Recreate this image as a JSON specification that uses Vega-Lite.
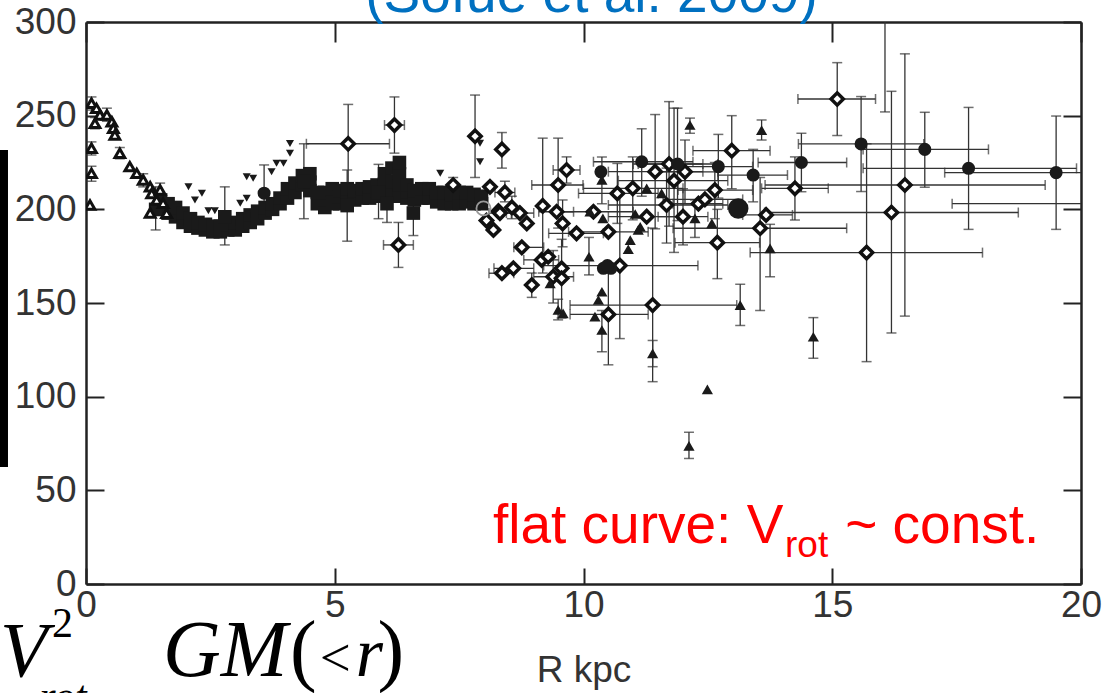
{
"$schema": "https://vega.github.io/schema/vega-lite/v6.json",
"width": 995, "height": 562,
"autosize": {"type": "none"},
"padding": {"left": 86, "top": 22, "right": 23, "bottom": 109},
"background": "white",
"config": {"view": {"stroke": null},
  "axis": {"grid": false, "domainColor": "#222", "domainWidth": 2.5, "tickColor": "#222", "tickWidth": 2,
    "labelFont": "Liberation Sans", "labelFontSize": 37, "labelColor": "#333", "labelFlush": false, "labelOverlap": false,
    "titleFont": "Liberation Sans", "titleFontSize": 37, "titleColor": "#333", "titleFontWeight": "normal"}},
"data": {"values": [
{"R":1.5,"V":200,"t":"sq"},{"R":1.5,"V":205,"t":"sq"},
{"R":1.65,"V":198,"t":"sq"},{"R":1.65,"V":203,"t":"sq"},
{"R":1.8,"V":196,"t":"sq"},{"R":1.8,"V":201,"t":"sq"},
{"R":1.95,"V":193,"t":"sq"},{"R":1.95,"V":198,"t":"sq"},
{"R":2.1,"V":191,"t":"sq"},{"R":2.1,"V":195,"t":"sq"},
{"R":2.25,"V":190,"t":"sq"},{"R":2.25,"V":193,"t":"sq"},
{"R":2.4,"V":189,"t":"sq"},{"R":2.4,"V":192,"t":"sq"},
{"R":2.55,"V":188,"t":"sq"},{"R":2.55,"V":191,"t":"sq"},
{"R":2.7,"V":188,"t":"sq"},{"R":2.7,"V":191,"t":"sq"},
{"R":2.85,"V":189,"t":"sq"},{"R":2.85,"V":192,"t":"sq"},
{"R":3.0,"V":189,"t":"sq"},{"R":3.0,"V":193,"t":"sq"},
{"R":3.15,"V":191,"t":"sq"},{"R":3.15,"V":195,"t":"sq"},
{"R":3.3,"V":193,"t":"sq"},{"R":3.3,"V":197,"t":"sq"},
{"R":3.45,"V":195,"t":"sq"},{"R":3.45,"V":199,"t":"sq"},
{"R":3.6,"V":198,"t":"sq"},{"R":3.6,"V":201,"t":"sq"},
{"R":3.75,"V":200,"t":"sq"},{"R":3.75,"V":203,"t":"sq"},
{"R":3.9,"V":203,"t":"sq"},{"R":3.9,"V":206,"t":"sq"},
{"R":4.05,"V":206,"t":"sq"},{"R":4.05,"V":211,"t":"sq"},
{"R":4.2,"V":209,"t":"sq"},{"R":4.2,"V":214,"t":"sq"},
{"R":4.35,"V":213,"t":"sq"},{"R":4.35,"V":218,"t":"sq"},
{"R":4.5,"V":210,"t":"sq"},{"R":4.5,"V":214.5,"t":"sq"},{"R":4.5,"V":219,"t":"sq"},
{"R":4.65,"V":203,"t":"sq"},{"R":4.65,"V":209,"t":"sq"},
{"R":4.8,"V":201,"t":"sq"},{"R":4.8,"V":205,"t":"sq"},{"R":4.8,"V":209,"t":"sq"},
{"R":4.95,"V":203,"t":"sq"},{"R":4.95,"V":207,"t":"sq"},{"R":4.95,"V":211,"t":"sq"},
{"R":5.1,"V":203,"t":"sq"},{"R":5.1,"V":206.5,"t":"sq"},{"R":5.1,"V":210,"t":"sq"},
{"R":5.25,"V":204,"t":"sq"},{"R":5.25,"V":207.5,"t":"sq"},{"R":5.25,"V":211,"t":"sq"},
{"R":5.4,"V":205,"t":"sq"},{"R":5.4,"V":210,"t":"sq"},
{"R":5.55,"V":206,"t":"sq"},{"R":5.55,"V":211,"t":"sq"},
{"R":5.7,"V":206,"t":"sq"},{"R":5.7,"V":212,"t":"sq"},
{"R":5.85,"V":207,"t":"sq"},{"R":5.85,"V":210,"t":"sq"},{"R":5.85,"V":213,"t":"sq"},
{"R":6.0,"V":208,"t":"sq"},{"R":6.0,"V":213.5,"t":"sq"},{"R":6.0,"V":219,"t":"sq"},
{"R":6.15,"V":209,"t":"sq"},{"R":6.15,"V":215,"t":"sq"},{"R":6.15,"V":222,"t":"sq"},
{"R":6.3,"V":207,"t":"sq"},{"R":6.3,"V":213,"t":"sq"},{"R":6.3,"V":219,"t":"sq"},{"R":6.3,"V":225,"t":"sq"},
{"R":6.45,"V":206,"t":"sq"},{"R":6.45,"V":209.5,"t":"sq"},{"R":6.45,"V":213,"t":"sq"},
{"R":6.6,"V":205,"t":"sq"},{"R":6.6,"V":210,"t":"sq"},
{"R":6.75,"V":206,"t":"sq"},{"R":6.75,"V":211,"t":"sq"},
{"R":6.9,"V":206,"t":"sq"},{"R":6.9,"V":211,"t":"sq"},
{"R":7.05,"V":204,"t":"sq"},{"R":7.05,"V":209,"t":"sq"},
{"R":7.2,"V":203,"t":"sq"},{"R":7.2,"V":209,"t":"sq"},
{"R":7.35,"V":203,"t":"sq"},{"R":7.35,"V":208,"t":"sq"},
{"R":7.5,"V":203,"t":"sq"},{"R":7.5,"V":209,"t":"sq"},
{"R":7.65,"V":204,"t":"sq"},{"R":7.65,"V":209,"t":"sq"},
{"R":7.8,"V":203,"t":"sq"},{"R":7.8,"V":208,"t":"sq"},
{"R":7.95,"V":203,"t":"sq"},{"R":7.95,"V":207,"t":"sq"},
{"R":1.4,"V":200,"t":"sq","Vlo":189,"Vhi":212},
{"R":2.79,"V":196,"t":"sq","Vlo":181,"Vhi":212},
{"R":4.38,"V":215,"t":"sq","Vlo":195,"Vhi":235},
{"R":5.25,"V":202,"t":"sq","Vlo":183,"Vhi":221},
{"R":5.88,"V":209,"t":"sq","Vlo":195,"Vhi":224},
{"R":6.05,"V":203,"t":"sq","Vlo":193,"Vhi":212},
{"R":6.58,"V":198,"t":"sq","Vlo":186,"Vhi":209},
{"R":0.11,"V":256.6,"t":"ot","Vlo":253,"Vhi":260},
{"R":0.21,"V":253.9,"t":"ot"},
{"R":0.18,"V":245.9,"t":"ot","Vlo":243,"Vhi":249},
{"R":0.28,"V":250.4,"t":"ot"},
{"R":0.42,"V":250.4,"t":"ot","Vlo":247,"Vhi":254},
{"R":0.52,"V":246.8,"t":"ot"},
{"R":0.55,"V":243.3,"t":"ot"},
{"R":0.58,"V":239.7,"t":"ot"},
{"R":0.11,"V":232.6,"t":"ot","Vlo":229,"Vhi":236},
{"R":0.11,"V":219.2,"t":"ot","Vlo":215,"Vhi":223},
{"R":0.08,"V":202.3,"t":"ot"},
{"R":0.68,"V":229.9,"t":"ot","Vlo":227,"Vhi":233},
{"R":0.88,"V":222.8,"t":"ot"},
{"R":1.02,"V":219.2,"t":"ot"},
{"R":1.15,"V":215.7,"t":"ot","Vlo":212,"Vhi":219},
{"R":1.29,"V":212.1,"t":"ot"},
{"R":1.32,"V":208.5,"t":"ot"},
{"R":1.49,"V":210.3,"t":"ot","Vlo":206,"Vhi":214},
{"R":1.42,"V":205,"t":"ot"},
{"R":1.29,"V":198,"t":"ot"},
{"R":1.55,"V":203.2,"t":"ot"},
{"R":1.62,"V":197.9,"t":"ot","Vlo":195,"Vhi":201},
{"R":2.06,"V":212,"t":"it"},{"R":2.19,"V":205,"t":"it"},{"R":2.33,"V":208.6,"t":"it"},
{"R":2.46,"V":199.3,"t":"it"},{"R":2.59,"V":199.3,"t":"it"},{"R":3.1,"V":203.2,"t":"it"},
{"R":3.23,"V":205.9,"t":"it"},{"R":3.23,"V":217.4,"t":"it"},{"R":3.36,"V":216.6,"t":"it"},
{"R":3.73,"V":220.1,"t":"it"},{"R":3.83,"V":224.6,"t":"it"},{"R":3.97,"V":224.6,"t":"it"},
{"R":4.1,"V":235.2,"t":"it"},{"R":4.1,"V":229.9,"t":"it"},{"R":7.12,"V":219.3,"t":"it"},
{"R":7.92,"V":235.3,"t":"it"},{"R":7.92,"V":225.4,"t":"it"},
{"R":5.27,"V":235,"t":"d","Rlo":4.43,"Rhi":6.1,"Vlo":214,"Vhi":256},
{"R":6.2,"V":245,"t":"d","Rlo":6.0,"Rhi":6.4,"Vlo":230,"Vhi":260},
{"R":6.28,"V":181,"t":"d","Rlo":5.98,"Rhi":6.58,"Vlo":169,"Vhi":193},
{"R":7.82,"V":239,"t":"d","Vlo":217,"Vhi":261},
{"R":8.36,"V":232,"t":"d","Vlo":222,"Vhi":241},
{"R":7.38,"V":213,"t":"d","Vlo":209,"Vhi":217},
{"R":8.42,"V":209,"t":"d","Rlo":8.22,"Rhi":8.62,"Vlo":204,"Vhi":215},
{"R":8.12,"V":212,"t":"d"},
{"R":8.29,"V":199,"t":"d"},
{"R":8.05,"V":194,"t":"d"},
{"R":8.19,"V":189,"t":"d"},
{"R":8.32,"V":198,"t":"d","Rlo":8.1,"Rhi":8.55},
{"R":8.56,"V":201,"t":"d","Vlo":195,"Vhi":207},
{"R":8.72,"V":198,"t":"d","Rlo":8.45,"Rhi":9.0},
{"R":8.86,"V":192.5,"t":"d"},
{"R":9.18,"V":201.8,"t":"d","Vlo":166,"Vhi":238},
{"R":9.46,"V":198.7,"t":"d","Rlo":9.1,"Rhi":9.8},
{"R":9.49,"V":213,"t":"d","Rlo":8.96,"Rhi":9.99,"Vlo":190,"Vhi":238},
{"R":9.66,"V":221,"t":"d","Rlo":9.39,"Rhi":9.93,"Vlo":214,"Vhi":228},
{"R":9.58,"V":192.5,"t":"d","Vlo":180,"Vhi":205},
{"R":9.86,"V":187.2,"t":"d","Rlo":9.3,"Rhi":10.4},
{"R":8.76,"V":179.7,"t":"d","Rlo":8.6,"Rhi":9.2},
{"R":8.59,"V":168.5,"t":"d","Rlo":8.2,"Rhi":9.0},
{"R":8.36,"V":165.9,"t":"d","Rlo":8.1,"Rhi":8.6},
{"R":8.96,"V":159.6,"t":"d","Vlo":153,"Vhi":166},
{"R":9.16,"V":173,"t":"d","Rlo":8.8,"Rhi":9.5},
{"R":9.29,"V":174.7,"t":"d"},
{"R":9.39,"V":164,"t":"d","Rlo":9.0,"Rhi":9.8,"Vlo":150,"Vhi":178},
{"R":9.56,"V":168.5,"t":"d"},
{"R":9.56,"V":163.2,"t":"d","Vlo":142,"Vhi":184},
{"R":10.2,"V":198.7,"t":"d","Rlo":9.4,"Rhi":11.0},
{"R":10.5,"V":188,"t":"d","Rlo":9.7,"Rhi":11.3},
{"R":10.73,"V":170,"t":"d","Rlo":9.2,"Rhi":12.3,"Vlo":131,"Vhi":209},
{"R":10.5,"V":143.9,"t":"d","Rlo":9.73,"Rhi":11.3,"Vlo":117,"Vhi":171},
{"R":11.39,"V":148.9,"t":"d","Rlo":9.73,"Rhi":13.08,"Vlo":108,"Vhi":190},
{"R":10.68,"V":208.5,"t":"d","Rlo":9.9,"Rhi":11.5,"Vlo":192.5,"Vhi":224.5},
{"R":10.99,"V":211.2,"t":"d","Rlo":10.0,"Rhi":12.0,"Vlo":194.4,"Vhi":228},
{"R":11.27,"V":196.1,"t":"d","Rlo":10.5,"Rhi":12.0},
{"R":11.44,"V":220.1,"t":"d","Rlo":10.5,"Rhi":12.4,"Vlo":189.6,"Vhi":250.6},
{"R":11.67,"V":202.3,"t":"d","Rlo":10.5,"Rhi":12.9,"Vlo":182,"Vhi":222},
{"R":11.82,"V":215.3,"t":"d","Rlo":10.7,"Rhi":12.9,"Vlo":177,"Vhi":254},
{"R":12.0,"V":196.1,"t":"d","Rlo":11.5,"Rhi":12.5,"Vlo":181,"Vhi":211},
{"R":12.31,"V":203,"t":"d","Rlo":11.8,"Rhi":12.8},
{"R":12.44,"V":205.3,"t":"d","Rlo":11.6,"Rhi":13.2},
{"R":12.64,"V":210.3,"t":"d","Rlo":11.9,"Rhi":13.4,"Vlo":195,"Vhi":225},
{"R":12.69,"V":182.2,"t":"d","Rlo":11.84,"Rhi":13.54,"Vlo":163,"Vhi":200},
{"R":13.55,"V":189.9,"t":"d","Rlo":11.8,"Rhi":15.29,"Vlo":146,"Vhi":217},
{"R":13.67,"V":197,"t":"d","Rlo":13.2,"Rhi":14.2},
{"R":12.98,"V":231.3,"t":"d","Rlo":12.2,"Rhi":13.75,"Vlo":211,"Vhi":250},
{"R":11.72,"V":224.2,"t":"d","Rlo":11.0,"Rhi":12.4,"Vlo":191,"Vhi":257.5},
{"R":12.04,"V":220,"t":"d","Rlo":11.4,"Rhi":12.7,"Vlo":203,"Vhi":237},
{"R":14.25,"V":211.2,"t":"d","Rlo":13.58,"Rhi":14.92,"Vlo":194.3,"Vhi":228},
{"R":15.1,"V":258.9,"t":"d","Rlo":14.31,"Rhi":15.87,"Vlo":239.4,"Vhi":278.3},
{"R":16.46,"V":213,"t":"d","Rlo":13.65,"Rhi":19.28,"Vlo":143,"Vhi":283},
{"R":16.19,"V":198.3,"t":"d","Rlo":13.64,"Rhi":18.74,"Vlo":134,"Vhi":263},
{"R":15.69,"V":176.9,"t":"d","Rlo":13.35,"Rhi":18.02,"Vlo":118.7,"Vhi":235},
{"R":16.06,"V":330,"t":"d","Vlo":252,"Vhi":408},
{"R":20.8,"V":203,"t":"d","Rlo":17.41,"Rhi":24.2},
{"R":3.58,"V":208.6,"t":"c","Vlo":197.9,"Vhi":223.7},
{"R":11.17,"V":225.4,"t":"c","Rlo":10.2,"Rhi":12.2,"Vlo":207,"Vhi":243},
{"R":11.89,"V":224.2,"t":"c","Rlo":11.1,"Rhi":12.7,"Vlo":194,"Vhi":254},
{"R":12.71,"V":222.8,"t":"c","Rlo":12.0,"Rhi":13.4,"Vlo":206,"Vhi":240},
{"R":13.41,"V":218.3,"t":"c","Rlo":12.7,"Rhi":14.1,"Vlo":204,"Vhi":232},
{"R":14.38,"V":225,"t":"c","Rlo":13.51,"Rhi":15.29,"Vlo":209.4,"Vhi":240.6},
{"R":15.58,"V":234.9,"t":"c","Rlo":14.32,"Rhi":16.84,"Vlo":209.5,"Vhi":260.2},
{"R":16.86,"V":232,"t":"c","Rlo":15.62,"Rhi":18.14,"Vlo":211.8,"Vhi":251.8},
{"R":17.74,"V":221.9,"t":"c","Rlo":15.62,"Rhi":19.91,"Vlo":189.3,"Vhi":254.4},
{"R":19.5,"V":219.6,"t":"c","Rlo":17.26,"Rhi":21.8,"Vlo":189.3,"Vhi":249.8},
{"R":10.35,"V":220,"t":"c"},
{"R":10.4,"V":168.5,"t":"c"},{"R":10.55,"V":168.5,"t":"c"},{"R":10.48,"V":170,"t":"c"},
{"R":10.37,"V":215.7,"t":"ft","Vlo":203,"Vhi":228},
{"R":11.27,"V":211.2,"t":"ft"},
{"R":11.57,"V":208.5,"t":"ft"},
{"R":12.14,"V":245,"t":"ft","Vlo":240.6,"Vhi":248.7},
{"R":13.58,"V":242.3,"t":"ft","Vlo":237,"Vhi":247.7},
{"R":11.14,"V":190.7,"t":"ft"},
{"R":12.24,"V":195.2,"t":"ft","Vlo":185,"Vhi":205},
{"R":12.58,"V":192.5,"t":"ft"},
{"R":10.39,"V":195.2,"t":"ft"},
{"R":10.13,"V":198.7,"t":"ft"},
{"R":10.11,"V":174.7,"t":"ft","Vlo":165,"Vhi":185},
{"R":10.9,"V":178.7,"t":"ft"},
{"R":10.94,"V":183.6,"t":"ft"},
{"R":11.1,"V":189,"t":"ft"},
{"R":11.04,"V":197.5,"t":"ft"},
{"R":13.75,"V":179.2,"t":"ft","Vlo":164,"Vhi":192},
{"R":13.15,"V":148.9,"t":"ft","Vlo":138,"Vhi":160},
{"R":10.37,"V":156,"t":"ft"},
{"R":10.3,"V":151.6,"t":"ft"},
{"R":10.23,"V":142.7,"t":"ft"},
{"R":10.37,"V":135.6,"t":"ft","Vlo":124,"Vhi":146},
{"R":9.49,"V":146.3,"t":"ft","Vlo":141,"Vhi":152},
{"R":9.59,"V":144.5,"t":"ft"},
{"R":9.33,"V":160.5,"t":"ft"},
{"R":11.39,"V":123.1,"t":"ft","Vlo":116,"Vhi":130},
{"R":12.49,"V":103.9,"t":"ft"},
{"R":14.62,"V":132,"t":"ft","Vlo":120.5,"Vhi":142.2},
{"R":12.12,"V":73.7,"t":"ft","Vlo":67,"Vhi":81},
{"R":13.11,"V":200.5,"t":"bc"},
{"R":7.99,"V":200.5,"t":"gc"}
]},
"layer": [
{"mark": {"type": "rule", "clip": true, "color": "#333", "strokeWidth": 1.3},
 "transform": [{"filter": "isValid(datum.Rlo)"}],
 "encoding": {
  "x": {"field": "Rlo", "type": "quantitative", "scale": {"domain": [0, 20], "nice": false, "zero": false},
        "axis": {"orient": "top", "values": [0, 5, 10, 15, 20], "labels": false, "title": null, "tickSize": -20}},
  "x2": {"field": "Rhi"},
  "y": {"field": "V", "type": "quantitative", "scale": {"domain": [0, 300], "nice": false},
        "axis": {"orient": "right", "values": [0, 50, 100, 150, 200, 250, 300], "labels": false, "title": null, "tickSize": -18}}}},
{"mark": {"type": "rule", "clip": true, "color": "#333", "strokeWidth": 1.3},
 "transform": [{"filter": "isValid(datum.Vlo)"}],
 "encoding": {
  "x": {"field": "R", "type": "quantitative", "axis": null},
  "y": {"field": "Vlo", "type": "quantitative", "axis": null},
  "y2": {"field": "Vhi"}}},
{"mark": {"type": "tick", "clip": true, "color": "#333", "orient": "horizontal", "size": 10, "thickness": 1.5},
 "transform": [{"fold": ["Vlo", "Vhi"], "as": ["k", "cv"]}, {"filter": "isValid(datum.cv)"}],
 "encoding": {
  "x": {"field": "R", "type": "quantitative", "axis": null},
  "y": {"field": "cv", "type": "quantitative", "axis": null}}},
{"mark": {"type": "tick", "clip": true, "color": "#333", "orient": "vertical", "size": 10, "thickness": 1.5},
 "transform": [{"fold": ["Rlo", "Rhi"], "as": ["k", "cr"]}, {"filter": "isValid(datum.cr)"}],
 "encoding": {
  "x": {"field": "cr", "type": "quantitative", "axis": null},
  "y": {"field": "V", "type": "quantitative", "axis": null}}},
{"mark": {"type": "point", "clip": true, "shape": "square", "filled": true, "color": "#1a1a1a", "size": 185, "opacity": 1},
 "transform": [{"filter": "datum.t === 'sq'"}],
 "encoding": {
  "x": {"field": "R", "type": "quantitative", "title": "R kpc",
        "axis": {"orient": "bottom", "values": [0, 5, 10, 15, 20], "tickSize": -16, "labelPadding": 19, "titlePadding": 29}},
  "y": {"field": "V", "type": "quantitative",
        "axis": {"orient": "left", "values": [0, 50, 100, 150, 200, 250, 300], "title": null, "tickSize": -18, "labelPadding": 28}}}},
{"mark": {"type": "point", "clip": true, "shape": "triangle-up", "filled": true, "fill": "white", "stroke": "#111", "strokeWidth": 3, "size": 95, "opacity": 1},
 "transform": [{"filter": "datum.t === 'ot'"}],
 "encoding": {"x": {"field": "R", "type": "quantitative", "axis": null}, "y": {"field": "V", "type": "quantitative", "axis": null}}},
{"mark": {"type": "point", "clip": true, "shape": "triangle-down", "filled": true, "color": "#1a1a1a", "size": 65, "opacity": 1},
 "transform": [{"filter": "datum.t === 'it'"}],
 "encoding": {"x": {"field": "R", "type": "quantitative", "axis": null}, "y": {"field": "V", "type": "quantitative", "axis": null}}},
{"mark": {"type": "point", "clip": true, "shape": "diamond", "filled": true, "fill": "white", "stroke": "#111", "strokeWidth": 3.5, "size": 150, "opacity": 1},
 "transform": [{"filter": "datum.t === 'd'"}],
 "encoding": {"x": {"field": "R", "type": "quantitative", "axis": null}, "y": {"field": "V", "type": "quantitative", "axis": null}}},
{"mark": {"type": "point", "clip": true, "shape": "circle", "filled": true, "color": "#1a1a1a", "size": 170, "opacity": 1},
 "transform": [{"filter": "datum.t === 'c'"}],
 "encoding": {"x": {"field": "R", "type": "quantitative", "axis": null}, "y": {"field": "V", "type": "quantitative", "axis": null}}},
{"mark": {"type": "point", "clip": true, "shape": "triangle-up", "filled": true, "color": "#1a1a1a", "size": 125, "opacity": 1},
 "transform": [{"filter": "datum.t === 'ft'"}],
 "encoding": {"x": {"field": "R", "type": "quantitative", "axis": null}, "y": {"field": "V", "type": "quantitative", "axis": null}}},
{"mark": {"type": "point", "clip": true, "shape": "circle", "filled": true, "color": "#1a1a1a", "size": 420, "opacity": 1},
 "transform": [{"filter": "datum.t === 'bc'"}],
 "encoding": {"x": {"field": "R", "type": "quantitative", "axis": null}, "y": {"field": "V", "type": "quantitative", "axis": null}}},
{"mark": {"type": "point", "clip": true, "shape": "circle", "filled": false, "stroke": "#999", "strokeWidth": 1.8, "size": 200, "opacity": 1},
 "transform": [{"filter": "datum.t === 'gc'"}],
 "encoding": {"x": {"field": "R", "type": "quantitative", "axis": null}, "y": {"field": "V", "type": "quantitative", "axis": null}}},
{"data": {"values": [{}]},
 "mark": {"type": "text", "text": "(Sofue et al. 2009)", "font": "Liberation Sans", "fontSize": 55, "color": "#0070C0", "align": "center", "baseline": "alphabetic"},
 "encoding": {"x": {"datum": 10.16, "type": "quantitative", "axis": null}, "y": {"datum": 305.3, "type": "quantitative", "axis": null}}},
{"data": {"values": [{}]},
 "mark": {"type": "text", "text": "flat curve: V", "font": "Liberation Sans", "fontSize": 55, "color": "#FF0000", "align": "left", "baseline": "alphabetic"},
 "encoding": {"x": {"datum": 8.18, "type": "quantitative", "axis": null}, "y": {"datum": 21.9, "type": "quantitative", "axis": null}}},
{"data": {"values": [{}]},
 "mark": {"type": "text", "text": "rot", "font": "Liberation Sans", "fontSize": 37, "color": "#FF0000", "align": "left", "baseline": "alphabetic"},
 "encoding": {"x": {"datum": 14.05, "type": "quantitative", "axis": null}, "y": {"datum": 14.4, "type": "quantitative", "axis": null}}},
{"data": {"values": [{}]},
 "mark": {"type": "text", "text": "~ const.", "font": "Liberation Sans", "fontSize": 55, "color": "#FF0000", "align": "left", "baseline": "alphabetic"},
 "encoding": {"x": {"datum": 15.26, "type": "quantitative", "axis": null}, "y": {"datum": 21.9, "type": "quantitative", "axis": null}}},
{"data": {"values": [{}]},
 "mark": {"type": "text", "text": "V", "font": "Liberation Serif", "fontStyle": "italic", "fontSize": 78, "color": "#000", "align": "left", "baseline": "alphabetic"},
 "encoding": {"x": {"datum": -1.729, "type": "quantitative", "axis": null}, "y": {"datum": -49, "type": "quantitative", "axis": null}}},
{"data": {"values": [{}]},
 "mark": {"type": "text", "text": "2", "font": "Liberation Serif", "fontSize": 42, "color": "#000", "align": "left", "baseline": "alphabetic"},
 "encoding": {"x": {"datum": -0.684, "type": "quantitative", "axis": null}, "y": {"datum": -28.3, "type": "quantitative", "axis": null}}},
{"data": {"values": [{}]},
 "mark": {"type": "text", "text": "rot", "font": "Liberation Serif", "fontStyle": "italic", "fontSize": 42, "color": "#000", "align": "left", "baseline": "alphabetic"},
 "encoding": {"x": {"datum": -0.94, "type": "quantitative", "axis": null}, "y": {"datum": -67, "type": "quantitative", "axis": null}}},
{"data": {"values": [{}]},
 "mark": {"type": "text", "text": "GM", "font": "Liberation Serif", "fontStyle": "italic", "fontSize": 80, "color": "#000", "align": "left", "baseline": "alphabetic"},
 "encoding": {"x": {"datum": 1.548, "type": "quantitative", "axis": null}, "y": {"datum": -49, "type": "quantitative", "axis": null}}},
{"data": {"values": [{}]},
 "mark": {"type": "text", "text": "(", "font": "Liberation Serif", "fontSize": 80, "color": "#000", "align": "left", "baseline": "alphabetic"},
 "encoding": {"x": {"datum": 4.1, "type": "quantitative", "axis": null}, "y": {"datum": -49, "type": "quantitative", "axis": null}}},
{"data": {"values": [{}]},
 "mark": {"type": "text", "text": "<", "font": "Liberation Serif", "fontSize": 55, "color": "#000", "align": "left", "baseline": "alphabetic"},
 "encoding": {"x": {"datum": 4.7, "type": "quantitative", "axis": null}, "y": {"datum": -49, "type": "quantitative", "axis": null}}},
{"data": {"values": [{}]},
 "mark": {"type": "text", "text": "r", "font": "Liberation Serif", "fontStyle": "italic", "fontSize": 70, "color": "#000", "align": "left", "baseline": "alphabetic"},
 "encoding": {"x": {"datum": 5.42, "type": "quantitative", "axis": null}, "y": {"datum": -49, "type": "quantitative", "axis": null}}},
{"data": {"values": [{}]},
 "mark": {"type": "text", "text": ")", "font": "Liberation Serif", "fontSize": 80, "color": "#000", "align": "left", "baseline": "alphabetic"},
 "encoding": {"x": {"datum": 5.86, "type": "quantitative", "axis": null}, "y": {"datum": -49, "type": "quantitative", "axis": null}}},
{"data": {"values": [{}]},
 "mark": {"type": "rect", "color": "#000"},
 "encoding": {"x": {"datum": -1.729, "type": "quantitative", "axis": null}, "x2": {"datum": -1.568},
              "y": {"datum": 231.7, "type": "quantitative", "axis": null}, "y2": {"datum": 62.5}}}
]
}
